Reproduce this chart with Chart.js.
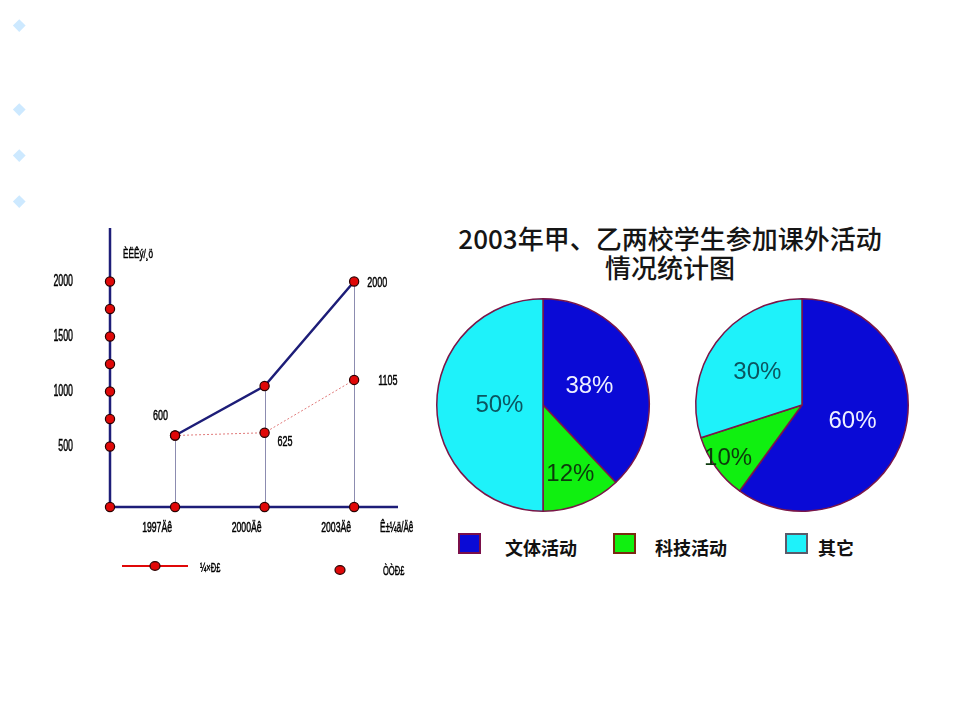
<!DOCTYPE html>
<html>
<head>
<meta charset="utf-8">
<script src="https://cdn.jsdelivr.net/npm/chart.js@4/dist/chart.umd.min.js"></script>
<style>
  html, body { margin:0; padding:0; background:#fff; }
  #stage { position:relative; width:960px; height:720px; overflow:hidden; background:#fff; }
  .bullet { position:absolute; width:8.5px; height:8.5px; background:#cde9ff; transform:rotate(45deg); }
  canvas { position:absolute; }
  #title { position:absolute; left:430px; width:480px; top:223px; text-align:center;
           font-family:"Noto Sans CJK SC", sans-serif; font-weight:500; font-size:26px; line-height:29px; color:#151515; }
  .sw { position:absolute; width:23px; height:21px; box-sizing:border-box; border:2px solid; }
  .lg { position:absolute; font-family:"Noto Sans CJK SC", sans-serif; font-weight:bold; font-size:18px; line-height:22px; color:#111; }
</style>
</head>
<body>
<div id="stage">
  <div class="bullet" style="left:14.7px;top:20.7px"></div>
  <div class="bullet" style="left:14.7px;top:104.7px"></div>
  <div class="bullet" style="left:14.7px;top:150.7px"></div>
  <div class="bullet" style="left:14.7px;top:197px"></div>

  <canvas id="lineChart" width="430" height="600" style="left:0;top:0"></canvas>
  <div id="title"></div>
  <canvas id="pieA" width="226" height="226" style="left:430px;top:292px"></canvas>
  <canvas id="pieB" width="226" height="226" style="left:689px;top:292px"></canvas>
  <div id="legend"></div>
</div>
<script>
// ---------- data: left line chart ----------
const years = [1997, 2000, 2003];
const xLabels = ['1997Äê', '2000Äê', '2003Äê'];
const xAxisTitle = 'Ê±¼ä/Äê';
const yAxisTitle = 'ÈËÊý/¸ö';
const seriesNames = ['¼×Ð£', 'ÒÒÐ£'];
const jiaValues = [600, 1050, 2000];
const yiValues = [600, 625, 1105];
const yDotValues = [500, 750, 1000, 1250, 1500, 1750, 2000];
const yLabelValues = [500, 1000, 1500, 2000];

// ---------- data: pies ----------
const pieTitle = ['2003年甲、乙两校学生参加课外活动', '情况统计图'];
const categories = ['文体活动', '科技活动', '其它'];
const schoolA = [38, 12, 50];
const schoolB = [60, 10, 30];

// ---------- scale bounds ----------
const X_MIN = 1994.82, X_MAX = 2004.47;
const Y_MIN = -50, Y_MAX = 2468;

const RED = '#e00808', DOT_BORDER = '#2a0000', NAVY = '#1d1d78';

function sq(ctx, s, x, y, align, size, sx) {
  ctx.save();
  ctx.font = size + 'px "Liberation Sans", Arial, sans-serif';
  ctx.textAlign = align; ctx.textBaseline = 'middle';
  ctx.fillStyle = '#000'; ctx.strokeStyle = '#000'; ctx.lineWidth = 0.5;
  ctx.translate(x, y); ctx.scale(sx, 1);
  ctx.fillText(s, 0, 0);
  ctx.strokeText(s, 0, 0);
  ctx.restore();
}

const lineDecor = {
  id: 'lineDecor',
  beforeDatasetsDraw(chart) {
    const { ctx, chartArea: a, scales: { x, y } } = chart;
    ctx.save();
    ctx.strokeStyle = '#8c8cb0'; ctx.lineWidth = 1;
    years.forEach((yr, i) => {
      const px = Math.round(x.getPixelForValue(yr)) + 0.5;
      ctx.beginPath();
      ctx.moveTo(px, y.getPixelForValue(Math.max(jiaValues[i], yiValues[i])));
      ctx.lineTo(px, a.bottom);
      ctx.stroke();
    });
    ctx.strokeStyle = NAVY; ctx.lineWidth = 2.5;
    ctx.beginPath();
    ctx.moveTo(a.left, a.top - 2);
    ctx.lineTo(a.left, a.bottom);
    ctx.lineTo(a.right, a.bottom);
    ctx.stroke();
    ctx.restore();
  },
  afterDatasetsDraw(chart) {
    const { ctx, chartArea: a, scales: { x, y } } = chart;
    ctx.save();
    // y tick labels
    yLabelValues.forEach(v => sq(ctx, String(v), a.left - 37, y.getPixelForValue(v), 'right', 16, 0.55));
    // y axis title
    sq(ctx, yAxisTitle, a.left + 13, 254, 'left', 13, 0.63);
    // x labels
    years.forEach((yr, i) => sq(ctx, xLabels[i], x.getPixelForValue(yr) - 3, a.bottom + 21, 'right', 14, 0.62));
    sq(ctx, xAxisTitle, a.right - 18, a.bottom + 21, 'left', 14, 0.58);
    // data labels
    const px = i => x.getPixelForValue(years[i]);
    sq(ctx, String(jiaValues[0]), px(0) - 7, y.getPixelForValue(jiaValues[0]) - 20, 'right', 15, 0.6);
    sq(ctx, String(yiValues[1]), px(1) + 13, y.getPixelForValue(yiValues[1]) + 9, 'left', 15, 0.6);
    sq(ctx, String(jiaValues[2]), px(2) + 13, y.getPixelForValue(jiaValues[2]) + 1, 'left', 15, 0.6);
    sq(ctx, String(yiValues[2]), px(2) + 24, y.getPixelForValue(yiValues[2]) + 1, 'left', 15, 0.6);
    // legend
    const ly = a.bottom + 59;
    ctx.strokeStyle = RED; ctx.lineWidth = 2;
    ctx.beginPath(); ctx.moveTo(122, ly); ctx.lineTo(188, ly); ctx.stroke();
    const dot = (cx, cy) => {
      ctx.beginPath(); ctx.ellipse(cx, cy, 5, 4.3, 0, 0, Math.PI * 2);
      ctx.fillStyle = RED; ctx.fill(); ctx.lineWidth = 1.2; ctx.strokeStyle = DOT_BORDER; ctx.stroke();
    };
    dot(155, ly);
    dot(340, ly + 4);
    sq(ctx, seriesNames[0], 200, ly + 2, 'left', 13, 0.58);
    sq(ctx, seriesNames[1], 383, ly + 5, 'left', 13, 0.58);
    ctx.restore();
  }
};

const pointStyle = {
  pointBackgroundColor: RED, pointBorderColor: DOT_BORDER, pointBorderWidth: 1.2,
  pointRadius: 4.6, clip: false
};

new Chart(document.getElementById('lineChart'), {
  type: 'scatter',
  data: {
    datasets: [
      Object.assign({ label: seriesNames[0], data: years.map((yr, i) => ({ x: yr, y: jiaValues[i] })),
        showLine: true, borderColor: NAVY, borderWidth: 2.5, tension: 0 }, pointStyle),
      Object.assign({ label: seriesNames[1], data: years.map((yr, i) => ({ x: yr, y: yiValues[i] })),
        showLine: true, borderColor: '#e07a7a', borderWidth: 1, borderDash: [2, 2], tension: 0 }, pointStyle),
      Object.assign({ label: 'yticks', data: yDotValues.map(v => ({ x: X_MIN, y: v })), showLine: false }, pointStyle),
      Object.assign({ label: 'xticks', data: [X_MIN].concat(years).map(v => ({ x: v, y: Y_MIN })), showLine: false }, pointStyle)
    ]
  },
  options: {
    responsive: false, animation: false,
    layout: { padding: { left: 110, right: 32, top: 230, bottom: 93 } },
    scales: {
      x: { type: 'linear', min: X_MIN, max: X_MAX, display: false },
      y: { type: 'linear', min: Y_MIN, max: Y_MAX, display: false }
    },
    plugins: { legend: { display: false }, tooltip: { enabled: false } }
  },
  plugins: [lineDecor]
});

// ---------- pies ----------
const sliceColors = ['#0a0ad6', '#10f010', '#1ef2fa'];
const labelColors = ['#eef0ff', '#0c3a0c', '#0b5560'];
const borderColors = ['#7a0f4a', '#7a2a10', '#5a5a6a'];

const pieLabels = {
  id: 'pieLabels',
  afterDatasetsDraw(chart, args, opts) {
    const { ctx } = chart;
    const meta = chart.getDatasetMeta(0);
    const values = chart.data.datasets[0].data;
    ctx.save();
    ctx.font = '24px "Liberation Sans", Arial, sans-serif';
    ctx.textAlign = 'center'; ctx.textBaseline = 'middle';
    meta.data.forEach((arc, i) => {
      const p = arc.getProps(['x', 'y', 'startAngle', 'endAngle', 'outerRadius'], true);
      const mid = (p.startAngle + p.endAngle) / 2;
      const r = p.outerRadius * opts.radius[i];
      ctx.fillStyle = labelColors[i];
      ctx.fillText(values[i] + '%', p.x + Math.cos(mid) * r, p.y + Math.sin(mid) * r);
    });
    ctx.restore();
  }
};

function makePie(id, values, radius) {
  new Chart(document.getElementById(id), {
    type: 'pie',
    data: { labels: categories, datasets: [{ data: values, backgroundColor: sliceColors,
      borderColor: '#7a1648', borderWidth: 1.5 }] },
    options: {
      responsive: false, animation: false,
      layout: { padding: 6 },
      plugins: { legend: { display: false }, tooltip: { enabled: false }, pieLabels: { radius } }
    },
    plugins: [pieLabels]
  });
}
makePie('pieA', schoolA, [0.47, 0.70, 0.41]);
makePie('pieB', schoolB, [0.50, 0.86, 0.52]);

// ---------- title & legend (HTML) ----------
document.getElementById('title').innerHTML = pieTitle.join('<br>');
const legendPos = [[458, 505], [613, 655], [785, 818]];
const lg = document.getElementById('legend');
categories.forEach((c, i) => {
  const s = document.createElement('div');
  s.className = 'sw';
  s.style.cssText = `left:${legendPos[i][0]}px;top:533px;background:${sliceColors[i]};border-color:${borderColors[i]}`;
  lg.appendChild(s);
  const t = document.createElement('div');
  t.className = 'lg';
  t.style.cssText = `left:${legendPos[i][1]}px;top:536px`;
  t.textContent = c;
  lg.appendChild(t);
});
</script>
</body>
</html>
